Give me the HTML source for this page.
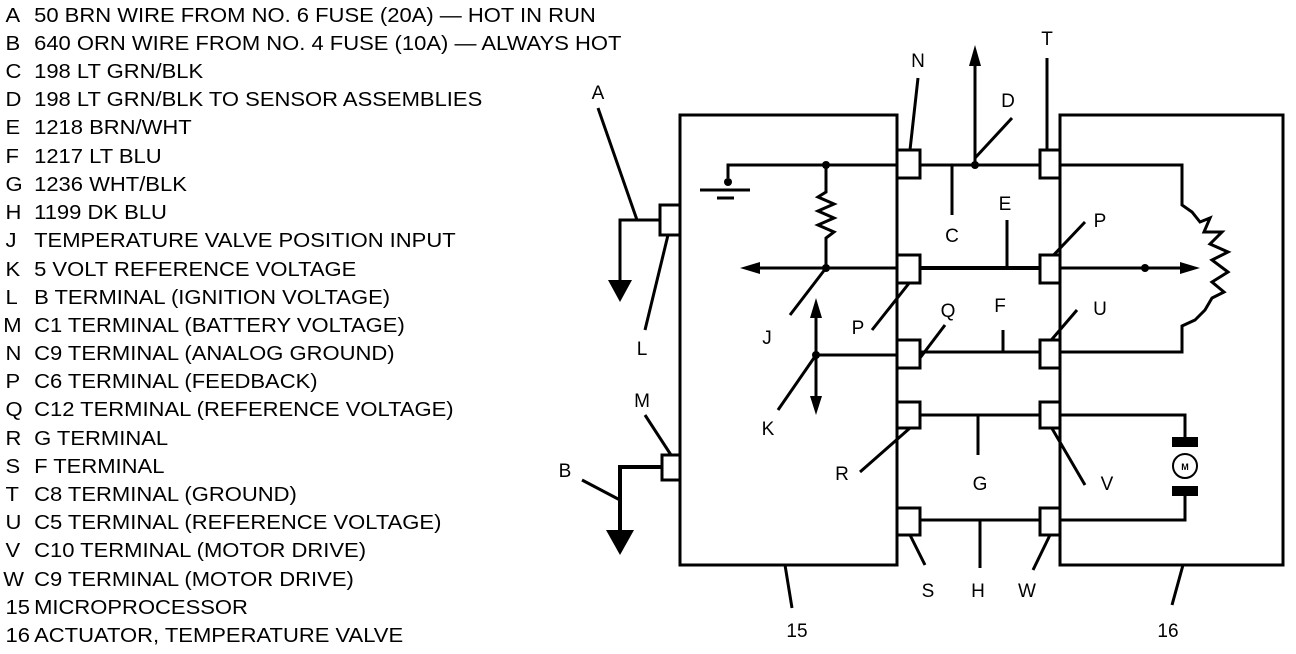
<!DOCTYPE html>
<html><head><style>
html,body{margin:0;padding:0;background:#fff;}
svg{display:block;}
text{font-family:"Liberation Sans",sans-serif;fill:#000;}
</style></head><body>
<svg width="1296" height="654" viewBox="0 0 1296 654" xmlns="http://www.w3.org/2000/svg">
<g font-size="20" transform="scale(1.1,1)">
<text x="5" y="22">A</text><text x="31" y="22">50 BRN WIRE FROM NO. 6 FUSE (20A) — HOT IN RUN</text>
<text x="5" y="50">B</text><text x="31" y="50">640 ORN WIRE FROM NO. 4 FUSE (10A) — ALWAYS HOT</text>
<text x="5" y="78">C</text><text x="31" y="78">198 LT GRN/BLK</text>
<text x="5" y="106">D</text><text x="31" y="106">198 LT GRN/BLK TO SENSOR ASSEMBLIES</text>
<text x="5" y="134">E</text><text x="31" y="134">1218 BRN/WHT</text>
<text x="5" y="163">F</text><text x="31" y="163">1217 LT BLU</text>
<text x="5" y="191">G</text><text x="31" y="191">1236 WHT/BLK</text>
<text x="5" y="219">H</text><text x="31" y="219">1199 DK BLU</text>
<text x="5" y="247">J</text><text x="31" y="247">TEMPERATURE VALVE POSITION INPUT</text>
<text x="5" y="276">K</text><text x="31" y="276">5 VOLT REFERENCE VOLTAGE</text>
<text x="5" y="304">L</text><text x="31" y="304">B TERMINAL (IGNITION VOLTAGE)</text>
<text x="3" y="332">M</text><text x="31" y="332">C1 TERMINAL (BATTERY VOLTAGE)</text>
<text x="5" y="360">N</text><text x="31" y="360">C9 TERMINAL (ANALOG GROUND)</text>
<text x="5" y="388">P</text><text x="31" y="388">C6 TERMINAL (FEEDBACK)</text>
<text x="5" y="416">Q</text><text x="31" y="416">C12 TERMINAL (REFERENCE VOLTAGE)</text>
<text x="5" y="445">R</text><text x="31" y="445">G TERMINAL</text>
<text x="5" y="473">S</text><text x="31" y="473">F TERMINAL</text>
<text x="5" y="501">T</text><text x="31" y="501">C8 TERMINAL (GROUND)</text>
<text x="5" y="529">U</text><text x="31" y="529">C5 TERMINAL  (REFERENCE VOLTAGE)</text>
<text x="5" y="557">V</text><text x="31" y="557">C10 TERMINAL (MOTOR DRIVE)</text>
<text x="3" y="586">W</text><text x="31" y="586">C9 TERMINAL (MOTOR DRIVE)</text>
<text x="5" y="614">15</text><text x="31" y="614">MICROPROCESSOR</text>
<text x="5" y="642">16</text><text x="31" y="642">ACTUATOR, TEMPERATURE VALVE</text>
</g>
<g stroke="#000" stroke-width="3" fill="none">
<rect x="680" y="115" width="217" height="450"/>
<rect x="1060" y="115" width="223" height="450"/>
<line x1="920" y1="165" x2="1040" y2="165"/>
<line x1="920" y1="268" x2="1040" y2="268" stroke-width="4"/>
<line x1="920" y1="352" x2="1040" y2="352"/>
<line x1="920" y1="415" x2="1040" y2="415"/>
<line x1="920" y1="520" x2="1040" y2="520"/>
<line x1="975" y1="165" x2="975" y2="62" stroke-width="3"/>
<line x1="975" y1="158" x2="1012" y2="118"/>
<line x1="952" y1="165" x2="952" y2="215"/>
<line x1="1047" y1="150" x2="1047" y2="58"/>
<line x1="1007" y1="268" x2="1007" y2="220" stroke-width="3"/>
<line x1="1003" y1="352" x2="1003" y2="330"/>
<line x1="920" y1="358" x2="945" y2="325"/>
<line x1="978" y1="415" x2="978" y2="455"/>
<line x1="980" y1="520" x2="980" y2="568"/>
<line x1="910" y1="535" x2="925" y2="565"/>
<line x1="1050" y1="535" x2="1033" y2="570"/>
<polyline points="728,178 728,165 897,165"/>
<line x1="700" y1="190" x2="750" y2="190"/>
<line x1="717" y1="198" x2="734" y2="198"/>
<polyline points="826,165 826,192 818,197 834,204 818,211 834,218 818,225 834,232 826,238 826,268"/>
<line x1="755" y1="268" x2="897" y2="268"/>
<line x1="826" y1="268" x2="790" y2="315"/>
<line x1="910" y1="282" x2="872" y2="330"/>
<line x1="816" y1="355" x2="897" y2="355"/>
<line x1="816" y1="312" x2="816" y2="402"/>
<line x1="816" y1="355" x2="778" y2="410"/>
<line x1="910" y1="428" x2="860" y2="472"/>
<polyline points="660,220 620,220 620,282"/>
<line x1="637" y1="220" x2="598" y2="108"/>
<line x1="668" y1="235" x2="645" y2="330"/>
<polyline points="662,467 620,467 620,535" stroke-width="4"/>
<line x1="671" y1="455" x2="645" y2="415"/>
<line x1="620" y1="500" x2="582" y2="480"/>
<polyline points="1060,165 1182,165 1182,205 1192,212 1200,222 1210,218 1204,232 1222,232 1210,244 1228,252 1212,260 1228,272 1212,282 1224,292 1212,298 1205,310 1195,320 1182,326 1182,352 1060,352"/>
<line x1="1060" y1="268" x2="1185" y2="268"/>
<line x1="1047" y1="262" x2="1085" y2="222"/>
<line x1="1047" y1="345" x2="1077" y2="310"/>
<line x1="1050" y1="425" x2="1085" y2="485"/>
<polyline points="1060,415 1185,415 1185,437"/>
<polyline points="1185,496 1185,520 1060,520"/>
<circle cx="1185" cy="466" r="12" stroke-width="2"/>
<line x1="785" y1="565" x2="792" y2="608"/>
<line x1="1183" y1="565" x2="1172" y2="605"/>
<line x1="918" y1="78" x2="910" y2="150"/>
</g>
<g stroke="#000" stroke-width="3" fill="#fff">
<rect x="897" y="150" width="23" height="28"/>
<rect x="897" y="255" width="23" height="28"/>
<rect x="897" y="340" width="23" height="28"/>
<rect x="897" y="402" width="23" height="26"/>
<rect x="897" y="508" width="23" height="27"/>
<rect x="1040" y="150" width="20" height="28"/>
<rect x="1040" y="255" width="20" height="28"/>
<rect x="1040" y="340" width="20" height="28"/>
<rect x="1040" y="402" width="20" height="26"/>
<rect x="1040" y="508" width="20" height="27"/>
<rect x="660" y="205" width="20" height="30"/>
<rect x="662" y="455" width="18" height="25"/>
</g>
<g fill="#000">
<circle cx="975" cy="165" r="4"/>
<circle cx="826" cy="165" r="4"/>
<circle cx="826" cy="268" r="4"/>
<circle cx="728" cy="182" r="4"/>
<circle cx="816" cy="355" r="4"/>
<circle cx="1145" cy="268" r="4"/>
<polygon points="975,45 969,66 981,66"/>
<polygon points="740,268 760,262 760,274"/>
<polygon points="816,298 810,318 822,318"/>
<polygon points="816,415 810,396 822,396"/>
<polygon points="1200,268 1180,262 1180,274"/>
<polygon points="608,280 632,280 620,302"/>
<polygon points="606,530 634,530 620,555"/>
<rect x="1172" y="437" width="26" height="10"/>
<rect x="1172" y="486" width="26" height="10"/>
</g>
<g font-size="19" text-anchor="middle">
<text x="598" y="99">A</text>
<text x="642" y="355">L</text>
<text x="642" y="407">M</text>
<text x="565" y="477">B</text>
<text x="918" y="67">N</text>
<text x="1008" y="107">D</text>
<text x="1047" y="45">T</text>
<text x="952" y="242">C</text>
<text x="1005" y="210">E</text>
<text x="1100" y="227">P</text>
<text x="767" y="344">J</text>
<text x="858" y="334">P</text>
<text x="948" y="317">Q</text>
<text x="1000" y="312">F</text>
<text x="1100" y="315">U</text>
<text x="768" y="435">K</text>
<text x="842" y="480">R</text>
<text x="980" y="490">G</text>
<text x="1107" y="490">V</text>
<text x="928" y="597">S</text>
<text x="978" y="597">H</text>
<text x="1027" y="597">W</text>
<text x="797" y="637">15</text>
<text x="1168" y="637">16</text>
<text x="1185" y="470" font-size="9" font-weight="bold">M</text>
</g>
</svg>
</body></html>
